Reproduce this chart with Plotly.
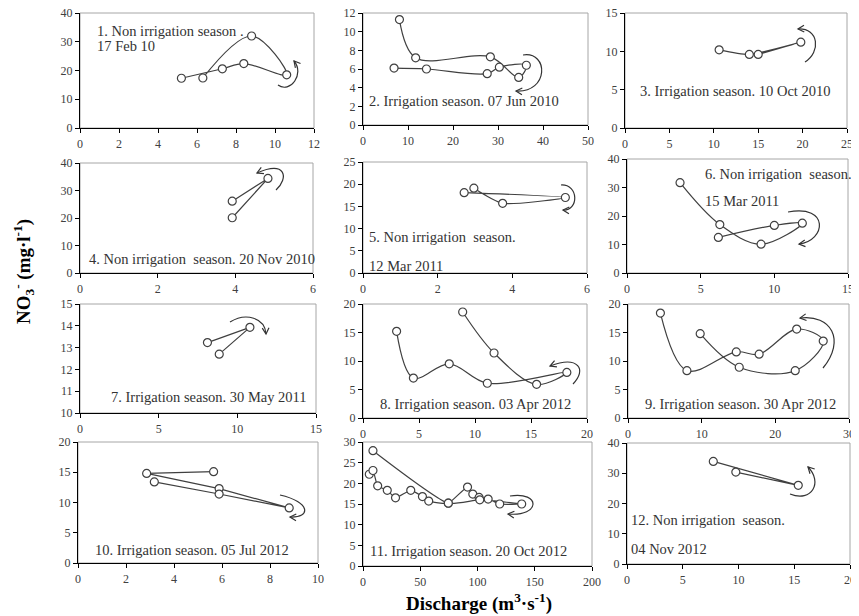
import math
import plotly.graph_objects as go

# page body has an 8px margin: the figure is drawn from (8, 8)
OFF = 8
W, H = 859 - OFF, 616 - OFF

# ---------------- data (discharge m3/s, NO3 mg/l) ----------------
q1 = [5.2, 7.3, 8.4, 10.6, 8.8, 6.3]
n1 = [17.3, 20.6, 22.4, 18.5, 32.0, 17.4]
q2 = [6.9, 14.1, 27.6, 30.3, 36.3, 34.6, 28.3, 11.7, 8.1]
n2 = [6.1, 6.0, 5.5, 6.2, 6.4, 5.1, 7.3, 7.2, 11.3]
q3 = [10.6, 14.0, 19.8, 15.0]
n3 = [10.2, 9.6, 11.2, 9.6]
q4 = [3.92, 4.84, 3.92]
n4 = [20.1, 34.4, 26.1]
q5 = [2.71, 5.42, 3.74, 2.97]
n5 = [18.1, 17.0, 15.7, 19.1]
q6 = [3.6, 6.3, 9.1, 11.9, 10.0, 6.2]
n6 = [31.7, 17.0, 10.1, 17.5, 16.7, 12.5]
q7 = [8.1, 10.8, 8.85]
n7 = [13.23, 13.93, 12.70]
q8 = [3.0, 4.5, 7.7, 11.1, 18.2, 15.5, 11.7, 8.9]
n8 = [15.2, 7.0, 9.5, 6.1, 8.0, 5.9, 11.4, 18.6]
q9 = [4.4, 8.0, 14.7, 17.8, 22.9, 26.5, 22.7, 15.1, 9.8]
n9 = [18.4, 8.3, 11.6, 11.2, 15.6, 13.5, 8.3, 8.9, 14.8]
q10 = [5.65, 2.86, 5.88, 8.8, 5.88, 3.18]
n10 = [15.1, 14.8, 12.3, 9.1, 11.4, 13.4]
q11 = [5.5, 8.7, 12.8, 21.2, 28.4, 41.7, 51.9, 57.4, 74.5, 91.3, 95.9, 101.4,
       109.3, 119.4, 138.6, 102.0, 74.5, 8.7]
n11 = [22.2, 23.1, 19.4, 18.3, 16.5, 18.3, 16.8, 15.7, 15.2, 19.1, 17.4, 16.6,
       16.2, 15.0, 15.0, 16.0, 15.2, 27.9]
q12 = [9.76, 15.36, 7.74]
n12 = [30.4, 26.0, 33.9]

labels = [
    ["1. Non irrigation season .", "17 Feb 10"],
    ["2. Irrigation season. 07 Jun 2010"],
    ["3. Irrigation season. 10 Oct 2010"],
    ["4. Non irrigation  season. 20 Nov 2010"],
    ["5. Non irrigation  season.", "12 Mar 2011"],
    ["6. Non irrigation  season.", "15 Mar 2011"],
    ["7. Irrigation season. 30 May 2011"],
    ["8. Irrigation season. 03 Apr 2012"],
    ["9. Irrigation season. 30 Apr 2012"],
    ["10. Irrigation season. 05 Jul 2012"],
    ["11. Irrigation season. 20 Oct 2012"],
    ["12. Non irrigation  season.", "04 Nov 2012"],
]

x_ticks = [(0, 12, 2), (0, 50, 10), (0, 25, 5), (0, 6, 2), (0, 6, 2), (0, 15, 5),
           (0, 15, 5), (0, 20, 5), (0, 30, 10), (0, 10, 2), (0, 200, 50), (0, 20, 5)]
y_ticks = [(0, 40, 10), (0, 12, 2), (0, 15, 5), (0, 40, 10), (0, 25, 5), (0, 40, 10),
           (10, 15, 1), (0, 20, 5), (0, 20, 5), (0, 20, 5), (0, 30, 5), (0, 40, 10)]

series = [(q1, n1), (q2, n2), (q3, n3), (q4, n4), (q5, n5), (q6, n6),
          (q7, n7), (q8, n8), (q9, n9), (q10, n10), (q11, n11), (q12, n12)]

# ---------------- layout / style (screen pixels of the reference) ----------------
boxes = [  # (left, right, top, bottom)
    (80, 314, 13, 128), (363, 588, 13, 125), (625, 847, 13, 128),
    (80, 313, 163, 273), (363, 587, 162, 273), (627, 848, 159, 273),
    (80, 316, 304, 413), (363, 587, 304, 418), (628, 849, 304, 418),
    (78, 318, 442, 563), (363, 592, 442, 566), (627, 850, 443, 564),
]
shapes_line = ["spline", "spline", "spline", "linear", "spline", "spline",
               "linear", "spline", "spline", "linear", "spline", "linear"]
smooth = [1.0, 1.0, 0.6, 0, 0.6, 1.0, 0, 1.0, 1.0, 0, 0.5, 0]
label_pos = [  # (left px, first line centre px, line gap px)
    (95, 31, 15), (367, 101, 0), (638, 91, 0), (87, 259, 0),
    (367, 237, 29), (703, 174, 27), (109, 397, 0), (378, 404, 0),
    (643, 404, 0), (93, 550, 0), (368, 551, 0), (629, 520, 29),
]
arrows = [  # start, c1, c2, tip  (pixels)
    ((278, 85), (290, 94), (305, 74), (294, 61)),
    ((523, 55), (549, 51), (549, 93), (516, 91)),
    ((805, 62), (821, 52), (819, 28), (798, 29)),
    ((276, 190), (289, 178), (286, 160), (257, 173)),
    ((561, 185), (579, 184), (579, 211), (563, 210)),
    ((788, 212), (830, 204), (826, 241), (799, 244)),
    ((230, 322), (246, 312), (265, 318), (266, 334)),
    ((573, 384), (587, 370), (579, 355), (550, 366)),
    ((823, 368), (846, 340), (831, 314), (800, 318)),
    ((280, 495), (311, 502), (311, 518), (290, 517)),
    ((510, 496), (541, 491), (541, 517), (508, 514)),
    ((790, 494), (812, 503), (823, 482), (808, 467)),
]

FONT = "Liberation Serif"
INK = "#404040"


def P(x, y):
    return (x - OFF) / W, 1 - (y - OFF) / H


fig = go.Figure()
layout = dict(
    template="none",
    width=W, height=H, margin=dict(l=0, r=0, t=0, b=0, pad=0, autoexpand=False),
    paper_bgcolor="white", plot_bgcolor="white", showlegend=False,
    font=dict(family=FONT, color=INK),
)
shapes = []
annotations = []

for i, ((xs, ys), (l, r, t, b)) in enumerate(zip(series, boxes)):
    k = i + 1
    xa = "xaxis" if k == 1 else f"xaxis{k}"
    ya = "yaxis" if k == 1 else f"yaxis{k}"
    xr = "x" if k == 1 else f"x{k}"
    yr = "y" if k == 1 else f"y{k}"
    x0, x1, dx = x_ticks[i]
    y0, y1, dy = y_ticks[i]
    common = dict(showgrid=False, zeroline=False, showline=True, linecolor="black",
                  linewidth=1.3, ticks="outside", ticklen=4, tickcolor="black",
                  tickwidth=1, automargin=False, ticklabeloverflow="allow",
                  tickfont=dict(family=FONT, size=12, color=INK))
    (dl, dt), (dr, db) = P(l, t), P(r, b)
    layout[xa] = dict(domain=[dl, dr], range=[x0, x1], tick0=x0, dtick=dx,
                      anchor=yr, **common)
    layout[ya] = dict(domain=[db, dt], range=[y0, y1], tick0=y0, dtick=dy,
                      anchor=xr, **common)
    line = dict(color=INK, width=1.2, shape=shapes_line[i])
    if shapes_line[i] == "spline":
        line["smoothing"] = smooth[i]
    fig.add_trace(go.Scatter(
        x=xs, y=ys, xaxis=xr, yaxis=yr, mode="lines+markers", line=line,
        marker=dict(symbol="circle", size=8, color="white",
                    line=dict(color=INK, width=1.2)),
        cliponaxis=False,
    ))
    shapes.append(dict(type="rect", xref=f"{xr} domain", yref=f"{yr} domain",
                       x0=0, x1=1, y0=0, y1=1, layer="below",
                       line=dict(color="#a6a6a6", width=1)))
    lx, ly, gap = label_pos[i]
    for j, txt in enumerate(labels[i]):
        px, py = P(lx, ly + j * gap)
        annotations.append(dict(x=px, y=py, xref="paper", yref="paper", text=txt,
                                showarrow=False, xanchor="left", yanchor="middle",
                                font=dict(family=FONT, size=14.5, color="#333333")))
    s, c1, c2, tip = arrows[i]
    pts = [P(*s), P(*c1), P(*c2), P(*tip)]
    path = "M{:.5f},{:.5f} C{:.5f},{:.5f} {:.5f},{:.5f} {:.5f},{:.5f}".format(
        *[v for p in pts for v in p])
    shapes.append(dict(type="path", xref="paper", yref="paper", path=path,
                       line=dict(color="#333333", width=1.2)))
    ddx, ddy = tip[0] - c2[0], tip[1] - c2[1]
    n = math.hypot(ddx, ddy)
    ux, uy = ddx / n, ddy / n
    arms = []
    for ang in (0.5, -0.5):
        ca, sa = math.cos(ang), math.sin(ang)
        rx, ry = ux * ca - uy * sa, ux * sa + uy * ca
        arms.append(P(tip[0] - 7 * rx, tip[1] - 7 * ry))
    tp = P(*tip)
    head = "M{:.5f},{:.5f} L{:.5f},{:.5f} L{:.5f},{:.5f}".format(
        arms[0][0], arms[0][1], tp[0], tp[1], arms[1][0], arms[1][1])
    shapes.append(dict(type="path", xref="paper", yref="paper", path=head,
                       line=dict(color="#333333", width=1.2)))

tx, ty = P(23, 272)
annotations.append(dict(x=tx, y=ty, xref="paper", yref="paper", textangle=-90,
                        text="NO<sub>3</sub><sup>-</sup> (mg·l<sup>-1</sup>)",
                        showarrow=False, xanchor="center", yanchor="middle",
                        font=dict(family=FONT, size=19, color="black", weight="bold")))
tx, ty = P(479, 602)
annotations.append(dict(x=tx, y=ty, xref="paper", yref="paper",
                        text="Discharge (m<sup>3</sup>·s<sup>-1</sup>)",
                        showarrow=False, xanchor="center", yanchor="middle",
                        font=dict(family=FONT, size=19, color="black", weight="bold")))

layout["shapes"] = shapes
layout["annotations"] = annotations
fig.update_layout(**layout)
fig.write_html("out.html")
